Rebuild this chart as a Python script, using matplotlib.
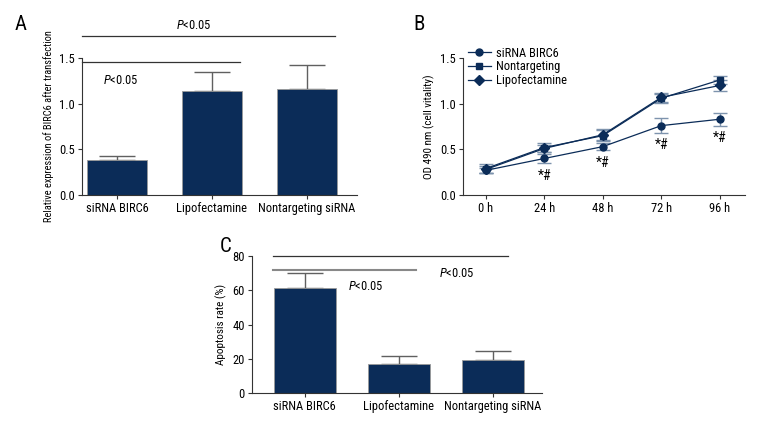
import numpy as np
import matplotlib.pyplot as plt
from matplotlib import font_manager
from matplotlib.lines import Line2D

# narrow font if any is installed, otherwise the regular one
names = {f.name for f in font_manager.fontManager.ttflist}
narrow = [n for n in ['Liberation Sans Narrow', 'Roboto Condensed', 'Open Sans Condensed',
                      'DejaVu Sans Condensed'] if n in names]
plt.rcParams['font.family'] = narrow + ['Liberation Sans', 'DejaVu Sans']
plt.rcParams['font.stretch'] = 'condensed'
plt.rcParams['mathtext.fontset'] = 'custom'
plt.rcParams['mathtext.it'] = (narrow + ['Liberation Sans'])[0] + ':italic'
plt.rcParams['mathtext.rm'] = (narrow + ['Liberation Sans'])[0]

navy = '#0b2c58'
err_grey = '#606060'
err_blue = '#7d93ad'

# panel A
groups = ['siRNA BIRC6', 'Lipofectamine', 'Nontargeting siRNA']
expr = [0.38, 1.14, 1.16]
expr_err = [0.05, 0.21, 0.26]

# panel B
hours = ['0 h', '24 h', '48 h', '72 h', '96 h']
od_sirna = [0.27, 0.40, 0.53, 0.76, 0.83]
od_sirna_err = [0.03, 0.05, 0.04, 0.08, 0.07]
od_nontarg = [0.29, 0.52, 0.65, 1.06, 1.26]
od_nontarg_err = [0.05, 0.05, 0.06, 0.05, 0.04]
od_lipo = [0.28, 0.51, 0.66, 1.07, 1.20]
od_lipo_err = [0.04, 0.04, 0.06, 0.05, 0.06]

# panel C
apop = [61.5, 17.0, 19.0]
apop_err = [8.5, 4.5, 5.5]

fs = 9 if narrow else 7.5
fig = plt.figure(figsize=(7.8, 4.32), dpi=100)


def style(ax):
    for s in ['top', 'right']:
        ax.spines[s].set_visible(False)
    ax.spines['left'].set_color('#333333')
    ax.spines['bottom'].set_color('#333333')
    ax.tick_params(labelsize=fs, length=3, color='#333333', width=0.8, pad=2)


def bars(ax, vals, errs, width):
    x = np.arange(len(vals))
    ax.bar(x, vals, width=width, color=navy, edgecolor='#9a9a9a', linewidth=0.6, zorder=2)
    ax.errorbar(x, vals, yerr=[np.zeros(len(errs)), errs], fmt='none',
                ecolor=err_grey, elinewidth=1, capsize=13, capthick=1, zorder=1)
    ax.set_xticks(x)
    ax.set_xticklabels(groups)


# ---- A
axA = fig.add_axes([0.105, 0.5486, 0.3526, 0.317])
bars(axA, expr, expr_err, 0.63)
axA.set_xlim(-0.37, 2.53)
axA.set_ylim(0, 1.5)
axA.set_yticks([0, 0.5, 1.0, 1.5])
axA.set_yticklabels(['0.0', '0.5', '1.0', '1.5'])
axA.set_ylabel('Relative expression of BIRC6 after transfection', fontsize=fs - 1.5, labelpad=4)
style(axA)
axA.plot([-0.37, 2.3], [1.74, 1.74], color='#333333', lw=0.9, clip_on=False)
axA.plot([-0.37, 1.3], [1.46, 1.46], color='#333333', lw=0.9, clip_on=False)
axA.text(0.81, 1.82, '$P$<0.05', fontsize=fs, ha='center')
axA.text(0.04, 1.22, '$P$<0.05', fontsize=fs, ha='center')
fig.text(0.019, 0.93, 'A', fontsize=15)

# ---- B
axB = fig.add_axes([0.5936, 0.5486, 0.3615, 0.317])
x = np.arange(len(hours))
ekw = dict(ecolor=err_blue, elinewidth=1, capsize=5, capthick=1)
series = [(od_sirna, od_sirna_err, 'o', 'siRNA BIRC6'),
          (od_nontarg, od_nontarg_err, 's', 'Nontargeting'),
          (od_lipo, od_lipo_err, 'D', 'Lipofectamine')]
handles = []
for vals, errs, mk, lab in series:
    axB.errorbar(x, vals, yerr=errs, color=navy, marker=mk, ms=5, lw=0.9, **ekw)
    handles.append(Line2D([], [], color=navy, marker=mk, ms=5, lw=0.9, label=lab))
for i in range(1, len(hours)):
    axB.text(x[i], od_sirna[i] - od_sirna_err[i] - 0.06, '*#', fontsize=fs + 1,
             ha='center', va='top')
axB.set_xticks(x)
axB.set_xticklabels(hours)
axB.set_xlim(-0.39, 4.43)
axB.set_ylim(0, 1.5)
axB.set_yticks([0, 0.5, 1.0, 1.5])
axB.set_yticklabels(['0.0', '0.5', '1.0', '1.5'])
axB.set_ylabel('OD 490 nm (cell vitality)', fontsize=fs - 1)
style(axB)
axB.legend(handles=handles, loc='upper left', bbox_to_anchor=(0.0, 1.12), frameon=False,
           fontsize=fs, handlelength=1.8, handletextpad=0.4,
           labelspacing=0.05, borderaxespad=0)
fig.text(0.53, 0.93, 'B', fontsize=15)

# ---- C
axC = fig.add_axes([0.323, 0.0903, 0.372, 0.317])
bars(axC, apop, apop_err, 0.66)
axC.set_xlim(-0.56, 2.52)
axC.set_ylim(0, 80)
axC.set_yticks([0, 20, 40, 60, 80])
axC.set_ylabel('Apoptosis rate (%)', fontsize=fs - 1)
style(axC)
axC.plot([-0.34, 2.16], [80, 80], color='#333333', lw=0.9, clip_on=False)
axC.plot([-0.34, 1.18], [72, 72], color='#888888', lw=1.5, clip_on=False)
axC.text(0.65, 60, '$P$<0.05', fontsize=fs, ha='center')
axC.text(1.62, 68, '$P$<0.05', fontsize=fs, ha='center')
fig.text(0.282, 0.417, 'C', fontsize=15)

fig.savefig('out.png', dpi=100)
